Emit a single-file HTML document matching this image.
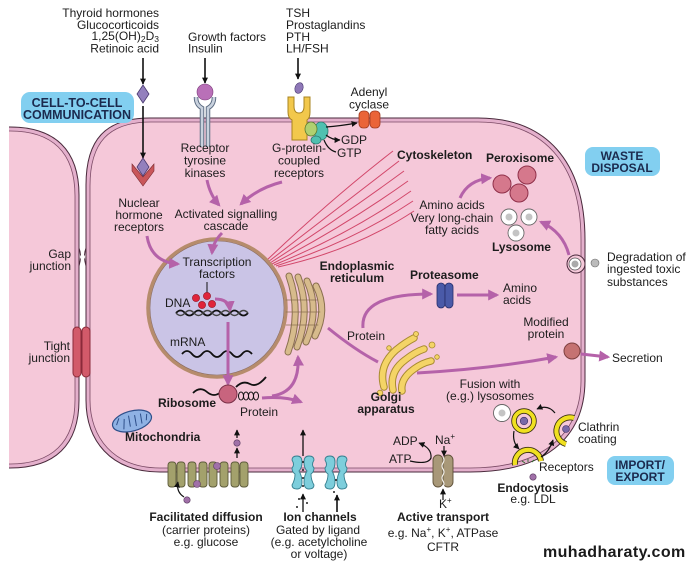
<!DOCTYPE html>
<html><head><meta charset="utf-8"><style>
html,body{margin:0;padding:0;background:#fff;}
svg{display:block;}
text{font-family:"Liberation Sans",Arial,sans-serif;fill:#1c1c1c;}
.b{font-weight:bold;}
.bx{font-weight:bold;fill:#1b2a4e;}
</style></head><body>
<svg width="692" height="564" viewBox="0 0 692 564" xmlns="http://www.w3.org/2000/svg" font-size="12">
<defs>
<marker id="ab" viewBox="0 0 10 10" refX="9" refY="5" markerWidth="6" markerHeight="6" markerUnits="userSpaceOnUse" orient="auto"><path d="M0,0 L10,5 L0,10 z" fill="#111"/></marker>
<marker id="ap" viewBox="0 0 10 10" refX="8" refY="5" markerWidth="11" markerHeight="11" markerUnits="userSpaceOnUse" orient="auto"><path d="M0,0 L10,5 L0,10 z" fill="#b562a9"/></marker>
</defs>

<!-- Left cell -->
<path d="M-10,127 L10,127 C55,127 79,150 79,195 L79,400 C79,445 55,468 10,468 L-10,468 Z" fill="#e4b0cc" stroke="#4a2a3c" stroke-width="1"/>
<path d="M-10,131 L10,131 C52,131 75,152 75,196 L75,400 C75,442 52,464 10,464 L-10,464 Z" fill="#f5c8d9" stroke="#7b4a65" stroke-width="0.8"/>
<rect x="0" y="100" width="9" height="400" fill="#fff"/>

<!-- Main cell -->
<path d="M86,400 L86,185 C86,140 105,118 150,118 L478,118 C545,118 585,160 585,240 L585,380 C585,440 542,472 470,472 L160,472 C110,472 86,440 86,400 Z" fill="#e4b0cc" stroke="#4a2a3c" stroke-width="1"/>
<path d="M90,400 L90,186 C90,143 108,122 151,122 L478,122 C542,122 581,162 581,240 L581,380 C581,437 539,468 470,468 L160,468 C113,468 90,437 90,400 Z" fill="#f5c8d9" stroke="#7b4a65" stroke-width="0.8"/>

<!-- Gap junction -->
<path d="M79,248 Q82,256 79,266 M86,248 Q83,256 86,266" stroke="#4a2a3c" stroke-width="1" fill="none"/>
<circle cx="82.5" cy="257" r="2.5" fill="#fff"/>
<!-- Tight junction -->
<rect x="73" y="327" width="8" height="50" rx="4" fill="#d25a6a" stroke="#8a2a3a" stroke-width="1"/>
<rect x="82" y="327" width="8" height="50" rx="4" fill="#d25a6a" stroke="#8a2a3a" stroke-width="1"/>

<!-- Label boxes -->
<rect x="21" y="92" width="113" height="31" rx="9" fill="#82cff0"/>
<text class="bx" x="77" y="107" text-anchor="middle" font-size="12.5">CELL-TO-CELL</text>
<text class="bx" x="77" y="119" text-anchor="middle" font-size="12.5">COMMUNICATION</text>
<rect x="585" y="147" width="75" height="29" rx="8" fill="#82cff0"/>
<text class="bx" x="622" y="160" text-anchor="middle">WASTE</text>
<text class="bx" x="622" y="172" text-anchor="middle">DISPOSAL</text>
<rect x="607" y="456" width="67" height="29" rx="8" fill="#82cff0"/>
<text class="bx" x="640" y="469" text-anchor="middle">IMPORT/</text>
<text class="bx" x="640" y="481" text-anchor="middle">EXPORT</text>

<!-- Top texts -->
<text x="159" y="17" text-anchor="end">Thyroid hormones</text>
<text x="159" y="29" text-anchor="end">Glucocorticoids</text>
<text x="159" y="40" text-anchor="end">1,25(OH)<tspan font-size="8.5" dy="2">2</tspan><tspan dy="-2">D</tspan><tspan font-size="8.5" dy="2">3</tspan></text>
<text x="159" y="52.5" text-anchor="end">Retinoic acid</text>
<text x="188" y="41">Growth factors</text>
<text x="188" y="52.5">Insulin</text>
<text x="286" y="17">TSH</text>
<text x="286" y="29">Prostaglandins</text>
<text x="286" y="41">PTH</text>
<text x="286" y="52.5">LH/FSH</text>
<text x="369" y="96" text-anchor="middle">Adenyl</text>
<text x="369" y="108.5" text-anchor="middle">cyclase</text>

<!-- Black arrows top -->
<line x1="143" y1="58" x2="143" y2="84" stroke="#111" stroke-width="1.6" marker-end="url(#ab)"/>
<line x1="143" y1="106" x2="143" y2="158" stroke="#111" stroke-width="1.6" marker-end="url(#ab)"/>
<line x1="205" y1="58" x2="205" y2="83" stroke="#111" stroke-width="1.6" marker-end="url(#ab)"/>
<line x1="298" y1="58" x2="298" y2="79" stroke="#111" stroke-width="1.6" marker-end="url(#ab)"/>

<!-- Nuclear hormone diamonds -->
<polygon points="143,85 149,94 143,103 137,94" fill="#9380bd" stroke="#4a3a70" stroke-width="0.8"/>
<polygon points="132,164 143,177 154,164 154,171 143,186 132,171" fill="#c9565a" stroke="#7a2a30" stroke-width="0.6"/>
<polygon points="143,158 149,167 143,176 137,167" fill="#9380bd" stroke="#4a3a70" stroke-width="0.8"/>

<!-- Receptor tyrosine kinase -->
<circle cx="205" cy="92" r="8" fill="#b970b8" stroke="#7a3a7a" stroke-width="0.6"/>
<path d="M196,97 Q196,105 202,108 L202,147 M214,97 Q214,105 208,108 L208,147" stroke="#5a6a80" stroke-width="4.5" fill="none"/>
<path d="M196,97 Q196,105 202,108 L202,147 M214,97 Q214,105 208,108 L208,147" stroke="#c9d2de" stroke-width="2.6" fill="none"/>

<!-- GPCR -->
<ellipse cx="299" cy="88" rx="4" ry="5.5" transform="rotate(20 299 88)" fill="#8f78b8" stroke="#4a3a70" stroke-width="0.6"/>
<path d="M288,97 L294,97 L294,106 Q294,113 299,113 Q304,113 304,106 L304,97 L310,97 L310,112 Q310,118 307,120 L307,140 L292,140 L292,120 Q288,118 288,112 Z" fill="#f2c84c" stroke="#a88420" stroke-width="1"/>
<ellipse cx="321" cy="131" rx="7" ry="9" fill="#4fc0b0" stroke="#2a7a70" stroke-width="0.8"/>
<ellipse cx="311" cy="129" rx="6" ry="7" fill="#b0d070" stroke="#5a7a30" stroke-width="0.8"/>
<ellipse cx="316" cy="140" rx="5" ry="4" fill="#4fc0b0" stroke="#2a7a70" stroke-width="0.8"/>
<!-- Adenyl cyclase -->
<rect x="359" y="111" width="10" height="17" rx="4" fill="#ea6438" stroke="#a03a20" stroke-width="0.8"/>
<rect x="370" y="111" width="10" height="17" rx="4" fill="#ea6438" stroke="#a03a20" stroke-width="0.8"/>
<path d="M326,127 Q340,126 357,123" stroke="#111" stroke-width="1.2" fill="none" marker-end="url(#ab)"/>
<path d="M326,135 Q332,140 340,140" stroke="#111" stroke-width="1.2" fill="none" marker-end="url(#ab)"/>
<path d="M336,152 Q328,150 324,140" stroke="#111" stroke-width="1.2" fill="none"/>
<text x="341" y="144">GDP</text>
<text x="337" y="157">GTP</text>

<text x="205" y="152" text-anchor="middle">Receptor</text>
<text x="205" y="164.5" text-anchor="middle">tyrosine</text>
<text x="205" y="177" text-anchor="middle">kinases</text>
<text x="299" y="152" text-anchor="middle">G-protein-</text>
<text x="299" y="164.5" text-anchor="middle">coupled</text>
<text x="299" y="177" text-anchor="middle">receptors</text>

<text x="139" y="207" text-anchor="middle">Nuclear</text>
<text x="139" y="219" text-anchor="middle">hormone</text>
<text x="139" y="231" text-anchor="middle">receptors</text>
<text x="226" y="218" text-anchor="middle">Activated signalling</text>
<text x="226" y="230" text-anchor="middle">cascade</text>

<!-- Cytoskeleton filaments -->
<g stroke="#d2476a" stroke-width="1" fill="none">
<path d="M266,261 Q330,200 393,151"/>
<path d="M268,262 Q335,210 399,161"/>
<path d="M270,263 Q340,218 404,171"/>
<path d="M272,264 Q345,226 408,181"/>
<path d="M274,265 Q350,234 411,191"/>
<path d="M276,266 Q352,242 413,201"/>
<path d="M278,267 Q355,250 414,211"/>
</g>
<text class="b" x="397" y="159">Cytoskeleton</text>

<!-- Nucleus -->
<circle cx="217" cy="308" r="69" fill="#cac4e6" stroke="#b68c6c" stroke-width="3.5"/>
<circle cx="217" cy="308" r="67" fill="none" stroke="#8a6a5a" stroke-width="0.6"/>
<text x="217" y="266" text-anchor="middle">Transcription</text>
<text x="217" y="278" text-anchor="middle">factors</text>
<line x1="207" y1="282" x2="207" y2="293" stroke="#111" stroke-width="1"/>
<text x="165" y="307">DNA</text>
<path d="M176,313 q4.5,-5 9,0 t9,0 t9,0 t9,0 t9,0 t9,0 t9,0 t9,0" stroke="#111" stroke-width="1.8" fill="none"/>
<path d="M176,313 q4.5,5 9,0 t9,0 t9,0 t9,0 t9,0 t9,0 t9,0 t9,0" stroke="#444" stroke-width="1.4" fill="none"/>
<g fill="#e0243a" stroke="#901020" stroke-width="0.6">
<circle cx="196" cy="298" r="3.6"/><circle cx="207" cy="296" r="3.6"/><circle cx="202" cy="305" r="3.6"/><circle cx="212" cy="304" r="3.6"/>
</g>
<text x="170" y="346">mRNA</text>
<path d="M182,354 q5,-6 10,0 t10,0 t10,0 t10,0 t10,0 t10,0 t10,0" stroke="#111" stroke-width="1.8" fill="none"/>

<!-- Purple arrows -->
<g stroke="#b562a9" stroke-width="3" fill="none">
<path d="M207,180 Q210,195 219,205" marker-end="url(#ap)"/>
<path d="M282,182 Q258,188 241,204" marker-end="url(#ap)"/>
<path d="M147,236 Q151,262 178,264" marker-end="url(#ap)"/>
<path d="M222,233 Q213,242 212,253" marker-end="url(#ap)"/>
<path d="M215,299 Q229,299 230,310" marker-end="url(#ap)"/>
<path d="M228,322 L228,384" marker-end="url(#ap)"/>
<path d="M262,398 Q285,396 301,402" marker-end="url(#ap)"/>
<path d="M272,396 Q300,392 298,357" marker-end="url(#ap)"/>
<path d="M328,328 Q355,350 378,362"/>
<path d="M363,328 Q360,294 431,294" marker-end="url(#ap)"/>
<path d="M457,295 L497,295" marker-end="url(#ap)"/>
<path d="M417,373 Q490,369 556,357" marker-end="url(#ap)"/>
<path d="M581,354 L608,357" marker-end="url(#ap)"/>
<path d="M460,198 Q468,180 490,178" marker-end="url(#ap)"/>
<path d="M569,255 Q563,232 541,222" marker-end="url(#ap)"/>
</g>

<!-- ER -->
<g fill="none" stroke-linecap="round">
<g stroke="#8a7050" stroke-width="7">
<path d="M289,276 Q302,313 288,352"/>
<path d="M298,277 Q311,311 297,347"/>
<path d="M307,281 Q320,310 306,342"/>
<path d="M316,286 Q328,310 315,336"/>
</g>
<g stroke="#d7bb8c" stroke-width="5">
<path d="M289,276 Q302,313 288,352"/>
<path d="M298,277 Q311,311 297,347"/>
<path d="M307,281 Q320,310 306,342"/>
<path d="M316,286 Q328,310 315,336"/>
</g>
<path d="M286,300 L318,300 M286,312 L320,312 M286,325 L318,325" stroke="#8a7050" stroke-width="0.8"/>
</g>
<text class="b" x="357" y="270" text-anchor="middle">Endoplasmic</text>
<text class="b" x="357" y="282" text-anchor="middle">reticulum</text>

<!-- Golgi -->
<g fill="none" stroke-linecap="round">
<g stroke="#a88a30" stroke-width="7.5">
<path d="M384,387 Q378,366 396,350 Q406,342 414,338"/>
<path d="M393,390 Q389,372 405,360 Q415,352 424,349"/>
<path d="M402,391 Q400,379 414,369 Q422,363 431,361"/>
</g>
<g stroke="#f4d466" stroke-width="5.5">
<path d="M384,387 Q378,366 396,350 Q406,342 414,338"/>
<path d="M393,390 Q389,372 405,360 Q415,352 424,349"/>
<path d="M402,391 Q400,379 414,369 Q422,363 431,361"/>
</g>
</g>
<g fill="#f4d466" stroke="#a88a30" stroke-width="0.8">
<circle cx="416" cy="334" r="2.5"/><circle cx="432" cy="345" r="3"/><circle cx="380" cy="393" r="2.8"/><circle cx="437" cy="357" r="2.3"/><circle cx="389" cy="348" r="2.3"/>
</g>
<text class="b" x="386" y="401" text-anchor="middle">Golgi</text>
<text class="b" x="386" y="413" text-anchor="middle">apparatus</text>

<!-- Proteasome -->
<text class="b" x="410" y="279">Proteasome</text>
<rect x="437" y="283" width="8" height="25" rx="4" fill="#4a5aa8" stroke="#262e6a" stroke-width="0.8"/>
<rect x="445" y="283" width="8" height="25" rx="4" fill="#4a5aa8" stroke="#262e6a" stroke-width="0.8"/>
<text x="503" y="292">Amino</text>
<text x="503" y="304">acids</text>
<text x="347" y="340">Protein</text>

<!-- Peroxisomes -->
<g fill="#d5788c" stroke="#90304a" stroke-width="1">
<circle cx="502" cy="184" r="9"/><circle cx="527" cy="175" r="9"/><circle cx="519" cy="193" r="9"/>
</g>
<text class="b" x="486" y="162">Peroxisome</text>
<text x="452" y="209" text-anchor="middle">Amino acids</text>
<text x="452" y="222" text-anchor="middle">Very long-chain</text>
<text x="452" y="234" text-anchor="middle">fatty acids</text>
<!-- Lysosomes -->
<g fill="#fff" stroke="#666" stroke-width="0.9">
<circle cx="509" cy="217" r="8"/><circle cx="529" cy="217" r="8"/><circle cx="516" cy="233" r="8"/>
</g>
<g fill="#c4c4c4"><circle cx="509" cy="217" r="3.5"/><circle cx="529" cy="217" r="3.5"/><circle cx="516" cy="233" r="3.5"/></g>
<text class="b" x="492" y="251">Lysosome</text>

<!-- Degradation -->
<circle cx="576" cy="264" r="9" fill="#f5c8d9" stroke="#4a2a3c" stroke-width="1"/>
<circle cx="575" cy="264" r="6" fill="#fff" stroke="#555" stroke-width="0.8"/>
<circle cx="575" cy="264" r="3.5" fill="#aaa"/>
<circle cx="595" cy="263" r="4" fill="#bbb" stroke="#666" stroke-width="0.6"/>
<text x="607" y="261">Degradation of</text>
<text x="607" y="273">ingested toxic</text>
<text x="607" y="286">substances</text>

<!-- Modified protein / secretion -->
<text x="546" y="326" text-anchor="middle">Modified</text>
<text x="546" y="338" text-anchor="middle">protein</text>
<circle cx="572" cy="351" r="8" fill="#c57272" stroke="#7e4040" stroke-width="1"/>
<text x="612" y="362">Secretion</text>

<!-- Ribosome -->
<path d="M193,393 Q200,386 207,392 Q214,398 221,392 M236,387 Q243,380 250,384 Q257,388 266,377" stroke="#111" stroke-width="1.8" fill="none"/>
<circle cx="228" cy="394" r="9" fill="#c8647e" stroke="#7a3048" stroke-width="1"/>
<g fill="none" stroke="#111" stroke-width="1"><ellipse cx="241" cy="396" rx="2.5" ry="4"/><ellipse cx="246" cy="396" rx="2.5" ry="4"/><ellipse cx="251" cy="396" rx="2.5" ry="4"/><ellipse cx="256" cy="396" rx="2.5" ry="4"/></g>
<text class="b" x="158" y="407">Ribosome</text>
<text x="240" y="416">Protein</text>

<!-- Mitochondria -->
<g transform="rotate(-15 132 421)">
<ellipse cx="132" cy="421" rx="20" ry="10" fill="#8fb2e4" stroke="#2e4f8a" stroke-width="1.2"/>
<path d="M116,421 L120,415 M122,427 L125,417 M129,426 L130,415 M135,427 L136,416 M141,426 L142,416 M146,424 L148,418" stroke="#2e4f8a" stroke-width="1"/>
</g>
<text class="b" x="125" y="441">Mitochondria</text>

<!-- Facilitated diffusion -->
<g fill="#a3a16c" stroke="#5c5a3a" stroke-width="0.9">
<rect x="168" y="462" width="8" height="25" rx="3"/><rect x="177" y="462" width="8" height="25" rx="3"/>
<rect x="188" y="462" width="8" height="25" rx="3"/><rect x="199" y="462" width="8" height="25" rx="3"/>
<rect x="209" y="462" width="8" height="25" rx="3"/><rect x="220" y="462" width="8" height="25" rx="3"/>
<rect x="231" y="462" width="8" height="25" rx="3"/><rect x="240" y="462" width="8" height="25" rx="3"/>
</g>
<g fill="#a070a8" stroke="#5a3a60" stroke-width="0.6">
<circle cx="197" cy="484" r="3.5"/><circle cx="217" cy="466" r="3.5"/><circle cx="237" cy="443" r="3.2"/><circle cx="187" cy="500" r="3.2"/>
</g>
<line x1="237" y1="458" x2="237" y2="448" stroke="#111" stroke-width="1.3" marker-end="url(#ab)"/>
<line x1="237" y1="438" x2="237" y2="430" stroke="#111" stroke-width="1.3" marker-end="url(#ab)"/>
<path d="M184,497 Q176,492 178,482" stroke="#111" stroke-width="1.2" fill="none" marker-end="url(#ab)"/>
<text class="b" x="206" y="521" text-anchor="middle">Facilitated diffusion</text>
<text x="206" y="534" text-anchor="middle">(carrier proteins)</text>
<text x="206" y="546" text-anchor="middle">e.g. glucose</text>

<!-- Ion channels -->
<g fill="#7dcedc" stroke="#357e8e" stroke-width="0.9">
<path d="M292,460 Q292,456 297,456 Q302,456 302,462 Q302,468 299,471 Q302,476 302,482 Q302,489 297,489 Q292,489 292,485 Q295,480 295,474 Q292,472 292,468 Q295,465 292,460 Z"/>
<path d="M314,460 Q314,456 309,456 Q304,456 304,462 Q304,468 307,471 Q304,476 304,482 Q304,489 309,489 Q314,489 314,485 Q311,480 311,474 Q314,472 314,468 Q311,465 314,460 Z"/>
<path d="M325,460 Q325,456 330,456 Q335,456 335,462 Q335,468 332,471 Q335,476 335,482 Q335,489 330,489 Q325,489 325,485 Q328,480 328,474 Q325,472 325,468 Q328,465 325,460 Z"/>
<path d="M347,460 Q347,456 342,456 Q337,456 337,462 Q337,468 340,471 Q337,476 337,482 Q337,489 342,489 Q347,489 347,485 Q344,480 344,474 Q347,472 347,468 Q344,465 347,460 Z"/>
</g>
<g fill="#222"><circle cx="303" cy="462" r="1"/><circle cx="303" cy="470" r="1"/><circle cx="303" cy="478" r="1"/><circle cx="303" cy="486" r="1"/><circle cx="299" cy="499" r="1"/><circle cx="307" cy="503" r="1"/><circle cx="297" cy="507" r="1"/><circle cx="336" cy="480" r="1"/><circle cx="334" cy="492" r="1"/></g>
<line x1="303" y1="456" x2="303" y2="430" stroke="#111" stroke-width="1.3" marker-end="url(#ab)"/>
<line x1="303" y1="512" x2="303" y2="494" stroke="#111" stroke-width="1.3" marker-end="url(#ab)"/>
<line x1="337" y1="512" x2="337" y2="495" stroke="#111" stroke-width="1.6" marker-end="url(#ab)"/>
<text class="b" x="320" y="521" text-anchor="middle">Ion channels</text>
<text x="318" y="534" text-anchor="middle">Gated by ligand</text>
<text x="319" y="546" text-anchor="middle">(e.g. acetylcholine</text>
<text x="319" y="558" text-anchor="middle">or voltage)</text>

<!-- Active transport -->
<rect x="433" y="455" width="10" height="32" rx="5" fill="#a89878" stroke="#5e5038" stroke-width="0.9"/>
<rect x="443" y="455" width="10" height="32" rx="5" fill="#a89878" stroke="#5e5038" stroke-width="0.9"/>
<path d="M443,457 q2,3 0,6 t0,6 t0,6 t0,6 t0,6" stroke="#fff" stroke-width="1" fill="none"/>
<path d="M410,461 Q428,465 431,458 Q432,448 419,443" stroke="#111" stroke-width="1.2" fill="none" marker-end="url(#ab)"/>
<line x1="444" y1="446" x2="444" y2="456" stroke="#111" stroke-width="1.2" marker-end="url(#ab)"/>
<line x1="443" y1="500" x2="443" y2="489" stroke="#111" stroke-width="1.2" marker-end="url(#ab)"/>
<text x="393" y="445">ADP</text>
<text x="435" y="444">Na<tspan font-size="8" dy="-5">+</tspan></text>
<text x="389" y="463">ATP</text>
<text x="439" y="508">K<tspan font-size="8" dy="-5">+</tspan></text>
<text class="b" x="443" y="521" text-anchor="middle">Active transport</text>
<text x="443" y="537" text-anchor="middle">e.g. Na<tspan font-size="8" dy="-5">+</tspan><tspan dy="5">, K</tspan><tspan font-size="8" dy="-5">+</tspan><tspan dy="5">, ATPase</tspan></text>
<text x="443" y="551" text-anchor="middle">CFTR</text>

<!-- Endocytosis -->
<text x="490" y="388" text-anchor="middle">Fusion with</text>
<text x="490" y="400" text-anchor="middle">(e.g.) lysosomes</text>
<circle cx="502" cy="413" r="8.5" fill="#fff" stroke="#666" stroke-width="0.9"/>
<circle cx="502" cy="413" r="3.5" fill="#c4c4c4"/>
<circle cx="524" cy="421" r="10" fill="#f5c8d9" stroke="#3a3010" stroke-width="5.5"/>
<circle cx="524" cy="421" r="10" fill="none" stroke="#f0e020" stroke-width="3.8"/>
<circle cx="524" cy="421" r="3.8" fill="#7868a8" stroke="#3a3060" stroke-width="0.6"/>
<path d="M574,418 A11,11 0 1 0 566,444" fill="none" stroke="#3a3010" stroke-width="6"/>
<path d="M574,418 A11,11 0 1 0 566,444" fill="none" stroke="#f0e020" stroke-width="4.2"/>
<circle cx="566" cy="429" r="3.5" fill="#7868a8" stroke="#3a3060" stroke-width="0.6"/>
<path d="M515,465 A13,13 0 0 1 541,461" fill="none" stroke="#3a3010" stroke-width="6"/>
<path d="M515,465 A13,13 0 0 1 541,461" fill="none" stroke="#f0e020" stroke-width="4.2"/>
<path d="M522,461 l3,2 M528,459 l0,3 M534,460 l-2,2" stroke="#2a6a2a" stroke-width="0.9"/>
<g stroke="#111" stroke-width="1.2" fill="none">
<path d="M555,413 Q548,404 537,409" marker-end="url(#ab)"/>
<path d="M514,431 Q512,442 519,449" marker-end="url(#ab)"/>
<path d="M541,457 Q549,452 553,440" marker-end="url(#ab)"/>
</g>
<text x="578" y="431">Clathrin</text>
<text x="578" y="443">coating</text>
<text x="539" y="471">Receptors</text>
<circle cx="533" cy="477" r="3.2" fill="#a070a8" stroke="#5a3a60" stroke-width="0.6"/>
<text class="b" x="533" y="492" text-anchor="middle">Endocytosis</text>
<text x="533" y="503" text-anchor="middle">e.g. LDL</text>

<!-- Gap/Tight junction labels -->
<text x="71" y="258" text-anchor="end">Gap</text>
<text x="71" y="270" text-anchor="end">junction</text>
<text x="70" y="350" text-anchor="end">Tight</text>
<text x="70" y="362" text-anchor="end">junction</text>

<!-- Watermark -->
<text class="b" x="543" y="557" font-size="16" letter-spacing="0.4" style="fill:#1a1a1a">muhadharaty.com</text>
</svg>
</body></html>
